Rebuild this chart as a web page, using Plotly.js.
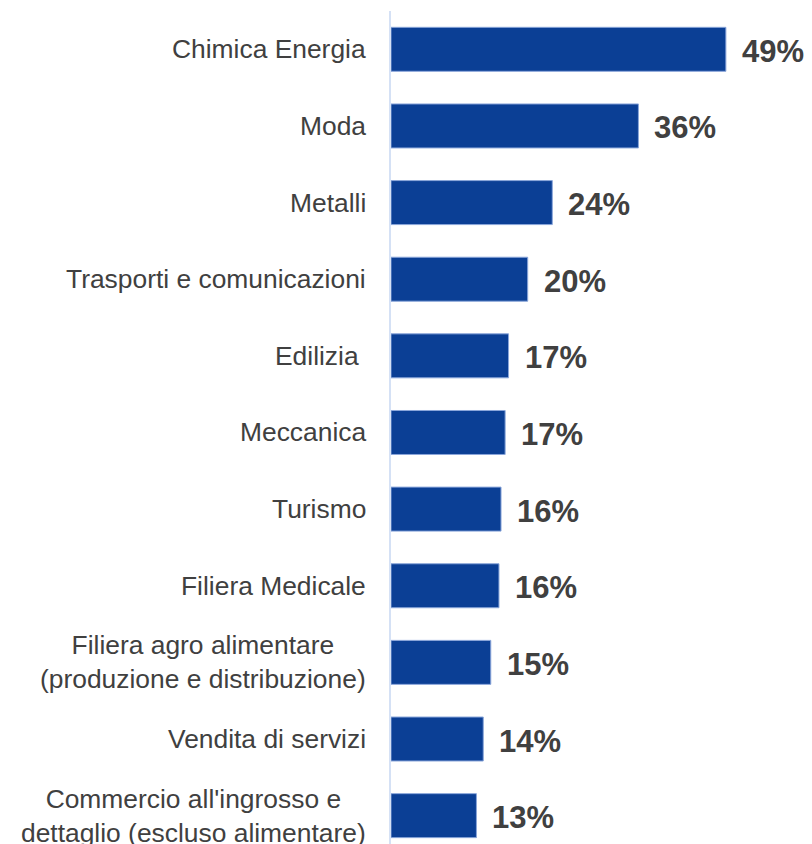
<!DOCTYPE html>
<html>
<head>
<meta charset="utf-8">
<script src="https://cdn.plot.ly/plotly-3.0.1.min.js"></script>
<style>
  html, body { margin: 0; padding: 0; background: #ffffff; }
  #chart { width: 812px; height: 844px; }
</style>
</head>
<body>
<div id="chart"></div>
<script>
// ---- data ----
const categories = [
  "Chimica Energia",
  "Moda",
  "Metalli",
  "Trasporti e comunicazioni",
  "Edilizia\u00a0",
  "Meccanica",
  "Turismo",
  "Filiera Medicale",
  "Filiera agro alimentare<br>(produzione e distribuzione)",
  "Vendita di servizi",
  "Commercio all'ingrosso e<br>dettaglio (escluso alimentare)"
];
const values = [49.0, 36.2, 23.6, 20.0, 17.2, 16.7, 16.1, 15.8, 14.6, 13.5, 12.5];
const valueLabels = ["49%", "36%", "24%", "20%", "17%", "17%", "16%", "16%", "15%", "14%", "13%"];

// ---- chart ----
const FONT = "'Liberation Sans', Arial, Helvetica, sans-serif";
const TEXT_COLOR = "#404040";

const trace = {
  type: "bar",
  orientation: "h",
  x: values,
  y: categories,
  marker: { color: "#0B3F95", line: { color: "#8AA6DA", width: 1 } },
  hoverinfo: "none"
};

const annotations = [];
categories.forEach((c, i) => {
  annotations.push({
    xref: "paper", x: 0, xanchor: "right", xshift: -23,
    yref: "y", y: c, yanchor: "middle",
    text: c, showarrow: false, align: "center",
    font: { family: FONT, size: 26.4, color: TEXT_COLOR }
  });
  annotations.push({
    xref: "x", x: values[i], xanchor: "left", xshift: 14,
    yref: "y", y: c, yanchor: "middle", yshift: -2,
    text: valueLabels[i], showarrow: false,
    font: { family: FONT, size: 31, color: TEXT_COLOR, weight: "bold" }
  });
});

const layout = {
  width: 812,
  height: 844,
  margin: { l: 391, r: 0, t: 11, b: 0, pad: 0 },
  paper_bgcolor: "#ffffff",
  plot_bgcolor: "#ffffff",
  showlegend: false,
  bargap: 0.426,
  xaxis: {
    range: [0, 61.6],
    showgrid: false, zeroline: false, showticklabels: false, showline: false, ticks: ""
  },
  yaxis: {
    type: "category",
    categoryorder: "array",
    categoryarray: categories,
    range: [10.37, -0.5],
    showgrid: false, zeroline: false, showticklabels: false, ticks: "",
    showline: true, linecolor: "#D5E1F5", linewidth: 2
  },
  annotations: annotations,
  font: { family: FONT, color: TEXT_COLOR }
};

Plotly.newPlot("chart", [trace], layout, { staticPlot: true, displayModeBar: false });
</script>
</body>
</html>
